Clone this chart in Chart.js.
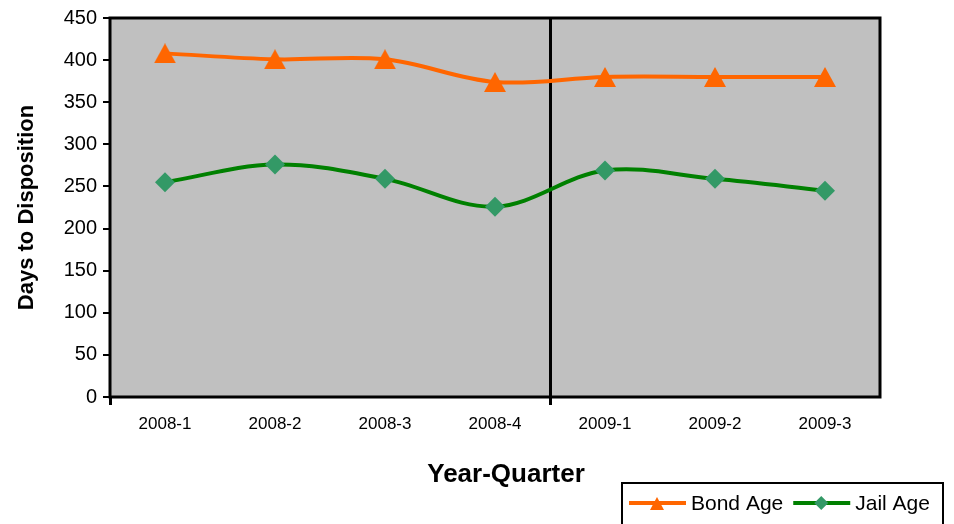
<!DOCTYPE html>
<html>
<head>
<meta charset="utf-8">
<script src="https://cdn.jsdelivr.net/npm/chart.js@4.4.1/dist/chart.umd.min.js"></script>
<style>
  body { margin: 0; background: #fff; }
  #wrap { width: 954px; height: 524px; position: relative; }
</style>
</head>
<body>
<div id="wrap"><canvas id="chart-days"></canvas></div>
<script>
const quarters = ["2008-1", "2008-2", "2008-3", "2008-4", "2009-1", "2009-2", "2009-3"];
const bondAge = [408, 401, 401, 374, 380, 380, 380];
const jailAge = [255, 276, 259, 226, 269, 259, 245];
const yTicks = [0, 50, 100, 150, 200, 250, 300, 350, 400, 450];

const FONT = "'Liberation Sans', Arial, sans-serif";
const ORANGE = "#FF6600";
const GREEN = "#008000";
const GREEN_MARK = "#339966";

// triangle marker centred on its box (chart.js centres on the circumcentre)
function makeTriangle(w, h, color) {
  const c = document.createElement("canvas");
  c.width = w;
  c.height = h;
  const g = c.getContext("2d");
  g.fillStyle = color;
  g.beginPath();
  g.moveTo(w / 2, 0);
  g.lineTo(w, h);
  g.lineTo(0, h);
  g.closePath();
  g.fill();
  return c;
}
const triangle = makeTriangle(22, 20, ORANGE);

const framePlugin = {
  id: "frame",
  beforeDraw(chart) {
    const { ctx, chartArea: a } = chart;
    ctx.save();
    ctx.fillStyle = "#C0C0C0";
    ctx.fillRect(a.left, a.top, a.right - a.left, a.bottom - a.top);
    ctx.restore();
  },
  afterDraw(chart) {
    const { ctx, chartArea: a } = chart;
    ctx.save();
    ctx.strokeStyle = "#000";
    ctx.lineWidth = 3;
    ctx.strokeRect(a.left, a.top, a.right - a.left, a.bottom - a.top);

    // x axis title, a bit right of centre like the original
    ctx.fillStyle = "#000";
    ctx.font = "bold 26px " + FONT;
    ctx.textAlign = "center";
    ctx.textBaseline = "middle";
    ctx.fillText("Year-Quarter", 506, 475);

    // legend box
    const bx = 622, by = 483;
    ctx.lineWidth = 2;
    ctx.strokeRect(bx, by, 321, 60);
    ctx.font = "21px " + FONT;
    ctx.textAlign = "left";
    const cy = 503;
    let x = bx + 7;
    chart.data.datasets.forEach((ds, i) => {
      ctx.strokeStyle = ds.borderColor;
      ctx.lineWidth = 4;
      ctx.beginPath();
      ctx.moveTo(x, cy);
      ctx.lineTo(x + 57, cy);
      ctx.stroke();
      const mx = x + 28;
      ctx.fillStyle = ds.pointBackgroundColor;
      ctx.beginPath();
      if (i === 0) {
        ctx.moveTo(mx, cy - 6);
        ctx.lineTo(mx + 7, cy + 7);
        ctx.lineTo(mx - 7, cy + 7);
      } else {
        ctx.moveTo(mx, cy - 7);
        ctx.lineTo(mx + 7, cy);
        ctx.lineTo(mx, cy + 7);
        ctx.lineTo(mx - 7, cy);
      }
      ctx.closePath();
      ctx.fill();
      ctx.fillStyle = "#000";
      ctx.fillText(ds.label, x + 62, cy + 1);
      x += 62 + ctx.measureText(ds.label).width + 10;
    });
    ctx.restore();
  },
};

const ctx = document.getElementById("chart-days").getContext("2d");
const myChart = new Chart(ctx, {
  type: "line",
  data: {
    labels: quarters,
    datasets: [
      {
        label: "Bond Age",
        data: bondAge,
        borderColor: ORANGE,
        borderWidth: 4,
        tension: 0.35,
        pointStyle: triangle,
        pointBackgroundColor: ORANGE,
      },
      {
        label: "Jail Age",
        data: jailAge,
        borderColor: GREEN,
        borderWidth: 4,
        tension: 0.35,
        pointStyle: "rectRot",
        pointRadius: 10,
        pointBorderWidth: 0,
        pointBackgroundColor: GREEN_MARK,
        pointBorderColor: GREEN_MARK,
      },
    ],
  },
  options: {
    responsive: true,
    maintainAspectRatio: false,
    animation: false,
    layout: { padding: { left: 0, top: 18, right: 74, bottom: 31 } },
    plugins: {
      legend: { display: false },
      tooltip: { enabled: false },
    },
    scales: {
      x: {
        offset: true,
        afterFit: (s) => { s.height = 96; },
        border: { display: false },
        grid: {
          offset: true,
          drawOnChartArea: true,
          lineWidth: 3,
          tickLength: 8,
          color: (c) => (c.index === 4 ? "#000" : "rgba(0,0,0,0)"),
          tickColor: (c) => (c.index === 0 || c.index === 4 ? "#000" : "rgba(0,0,0,0)"),
        },
        ticks: {
          color: "#000",
          padding: 9,
          maxRotation: 0,
          font: { family: FONT, size: 17 },
        },
        title: { display: false },
      },
      y: {
        min: 0,
        max: 450,
        afterFit: (s) => { s.width = 110; },
        afterBuildTicks: (s) => { s.ticks = yTicks.map((v) => ({ value: v })); },
        border: { display: false },
        grid: {
          drawOnChartArea: false,
          tickLength: 7,
          lineWidth: 2,
          tickColor: "#000",
        },
        ticks: {
          color: "#000",
          padding: 6,
          font: { family: FONT, size: 20 },
        },
        title: {
          display: true,
          text: "Days to Disposition",
          color: "#000",
          padding: { top: 14, bottom: 4 },
          font: { family: FONT, size: 22, weight: "bold" },
        },
      },
    },
  },
  plugins: [framePlugin],
});
</script>
</body>
</html>
